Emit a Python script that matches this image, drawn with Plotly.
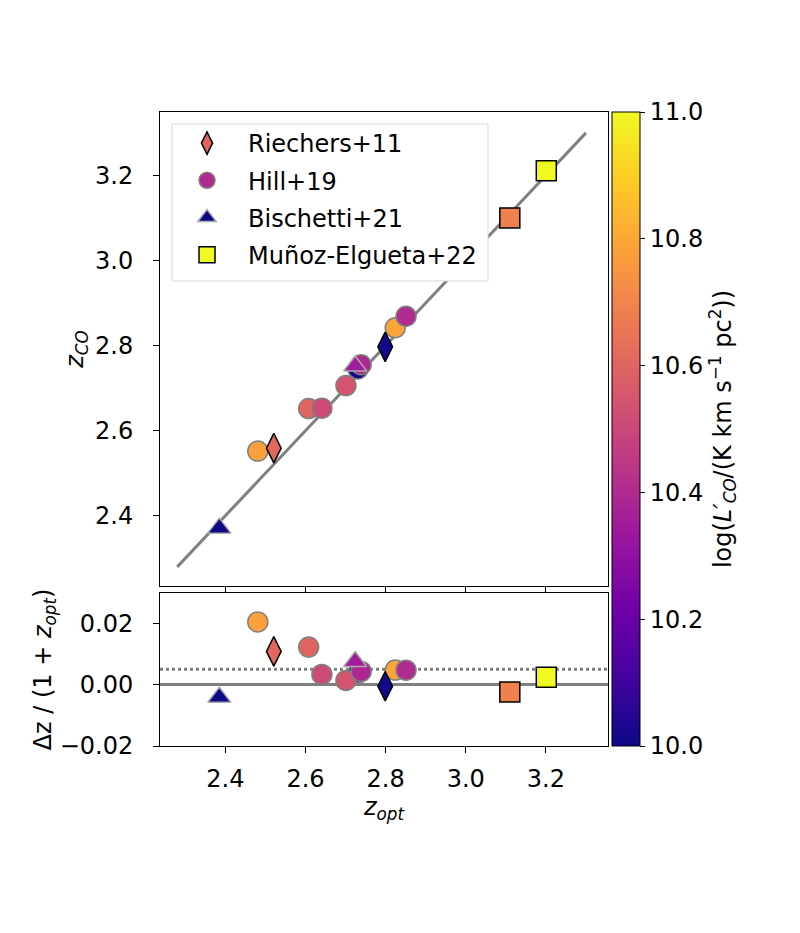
import plotly.graph_objects as go

# ---------------- data ----------------
riechers_zopt = [2.521, 2.799]
riechers_zco = [2.559, 2.797]
riechers_logL = [10.61, 10.01]

hill_zopt = [2.731, 2.481, 2.608, 2.641, 2.701, 2.739, 2.824, 2.851]
hill_zco = [2.745, 2.552, 2.652, 2.653, 2.706, 2.755, 2.842, 2.869]
hill_logL = [10.02, 10.78, 10.60, 10.51, 10.54, 10.39, 10.79, 10.40]

bischetti_zopt = [2.385, 2.724]
bischetti_zco = [2.371, 2.752]
bischetti_logL = [10.00, 10.35]

munoz_zopt = [3.110, 3.201]
munoz_zco = [3.100, 3.211]
munoz_logL = [10.69, 11.00]

line_z = [2.28, 3.30]
zero_level = 0.0
offset_level = 0.005

cbar_ticks = [10.0, 10.2, 10.4, 10.6, 10.8, 11.0]
legend_names = ["Riechers+11", "Hill+19", "Bischetti+21", "Muñoz-Elgueta+22"]


def dz(zopt, zco):
    return [(c - o) / (1 + o) for o, c in zip(zopt, zco)]


FONT = "DejaVu Sans"
FS = 24
OFF = 8  # page body margin in the browser
W, H = 800 - OFF, 933 - OFF
# plot area in (screenshot) pixels
PL, PR, PT, PB = 160, 608, 112, 746
PW, PH = PR - PL, PB - PT


def fx(px):
    return (px - PL) / PW


def fy(py):
    return 1 - (py - PT) / PH


PAD = '<span style="color:rgba(0,0,0,0)">-</span>'

fig = go.Figure()

# 1:1 line
fig.add_trace(go.Scatter(x=line_z, y=line_z, mode="lines",
                         line=dict(color="#808080", width=3),
                         showlegend=False, hoverinfo="skip",
                         xaxis="x", yaxis="y"))

series = [
    # name, zopt, zco, logL, symbol, size, edge color, edge width
    ("Hill+19", hill_zopt, hill_zco, hill_logL, "circle", 20, "#808080", 1.5),
    ("Riechers+11", riechers_zopt, riechers_zco, riechers_logL, "diamond-tall", 21, "black", 1.5),
    ("Bischetti+21", bischetti_zopt, bischetti_zco, bischetti_logL, "triangle-up", 20, "#aaaaaa", 1.5),
    ("Muñoz-Elgueta+22", munoz_zopt, munoz_zco, munoz_logL, "square", 20, "black", 1.5),
]

first = True
for name, zo, zc, L, sym, size, ec, ew in series:
    for xa, ya, yv in (("x", "y", zc), ("x2", "y2", dz(zo, zc))):
        marker = dict(symbol=sym, size=size, color=L, colorscale="Plasma",
                      cmin=10, cmax=11, line=dict(color=ec, width=ew),
                      opacity=1)
        if first:
            marker["showscale"] = True
            marker["colorbar"] = dict(
                thickness=28, thicknessmode="pixels",
                len=1, lenmode="fraction",
                x=fx(612), xanchor="left", xpad=0,
                y=1, yanchor="top", ypad=0,
                outlinewidth=1, outlinecolor="black",
                tickvals=cbar_ticks, tickformat=".1f",
                ticks="outside", ticklen=5, tickwidth=1, tickcolor="black",
                tickprefix=PAD, ticksuffix=PAD,
                tickfont=dict(family=FONT, size=FS, color="black"),
                title=dict(text="log(<i>L′</i><sub><i>CO</i></sub>/(K km s<sup>−1</sup> pc<sup>2</sup>))",
                           side="right",
                           font=dict(family=FONT, size=FS, color="black")),
            )
            first = False
        else:
            marker["showscale"] = False
        fig.add_trace(go.Scatter(x=zo, y=yv, mode="markers", marker=marker,
                                 showlegend=False, xaxis=xa, yaxis=ya,
                                 name=name))

# legend-only entries (fixed colours as in the reference legend)
legend_style = {
    "Riechers+11": ("diamond-tall", "#e16462", "black"),
    "Hill+19": ("circle", "#b12a90", "#808080"),
    "Bischetti+21": ("triangle-up", "#0d0887", "#aaaaaa"),
    "Muñoz-Elgueta+22": ("square", "#f0f921", "black"),
}
for i, nm in enumerate(legend_names):
    sym, col, ec = legend_style[nm]
    fig.add_trace(go.Scatter(x=[None], y=[None], mode="markers", name=nm,
                             legendgroup=nm, legendrank=i + 1,
                             marker=dict(symbol=sym, size=18, color=col,
                                         line=dict(color=ec, width=1.5)),
                             xaxis="x", yaxis="y"))

# legend frame
fig.add_shape(type="rect", xref="paper", yref="paper",
              x0=fx(172), x1=fx(488), y0=fy(281), y1=fy(124),
              fillcolor="white", line=dict(color="#d9d9d9", width=1),
              layer="above")

# reference lines in the residual panel
fig.add_shape(type="line", xref="x2 domain", yref="y2", x0=0, x1=1,
              y0=zero_level, y1=zero_level, layer="below",
              line=dict(color="#808080", width=3))
fig.add_shape(type="line", xref="x2 domain", yref="y2", x0=0, x1=1,
              y0=offset_level, y1=offset_level, layer="below",
              line=dict(color="#808080", width=3, dash="dot"))

axis_common = dict(showline=True, linecolor="black", linewidth=1, mirror=True,
                   ticks="outside", ticklen=6, tickwidth=1, tickcolor="black",
                   showgrid=False, zeroline=False,
                   tickfont=dict(family=FONT, size=FS, color="black"))

xr = [2.237, 3.355]
ticks_z = [2.4, 2.6, 2.8, 3.0, 3.2]
ticks_dz = [-0.02, 0.0, 0.02]

fig.update_layout(
    width=W, height=H,
    margin=dict(l=PL - OFF, r=W - (PR - OFF), t=PT - OFF, b=H - (PB - OFF),
                autoexpand=False),
    paper_bgcolor="white", plot_bgcolor="white",
    font=dict(family=FONT, size=FS, color="black"),
    showlegend=True,
    legend=dict(x=fx(166), y=fy(121), xanchor="left", yanchor="top",
                bgcolor="rgba(0,0,0,0)", borderwidth=0,
                font=dict(family=FONT, size=FS, color="black"),
                itemwidth=72, tracegroupgap=3, itemsizing="trace"),
    xaxis=dict(domain=[0, 1], range=xr, anchor="y",
               showticklabels=False, tickvals=ticks_z, **axis_common),
    yaxis=dict(domain=[fy(586), 1], range=[2.235, 3.349],
               anchor="x", tickvals=ticks_z, tickformat=".1f",
               ticklabelstandoff=15,
               title=dict(text="<i>z</i><sub><i>CO</i></sub>", standoff=4,
                          font=dict(family=FONT, size=FS, color="black")),
               **axis_common),
    xaxis2=dict(domain=[0, 1], range=xr, anchor="y2", matches="x",
                tickvals=ticks_z, tickformat=".1f",
                ticklabelstandoff=5,
                title=dict(text="<i>z</i><sub><i>opt</i></sub>", standoff=6,
                           font=dict(family=FONT, size=FS, color="black")),
                **axis_common),
    yaxis2=dict(domain=[0, fy(593)], range=[-0.02, 0.0298],
                anchor="x2", tickvals=ticks_dz, tickformat=".2f",
                ticklabelstandoff=15,
                title=dict(text="Δz / (1 + <i>z</i><sub><i>opt</i></sub>)", standoff=1,
                           font=dict(family=FONT, size=FS, color="black")),
                **axis_common),
)

fig.write_html("out.html")
